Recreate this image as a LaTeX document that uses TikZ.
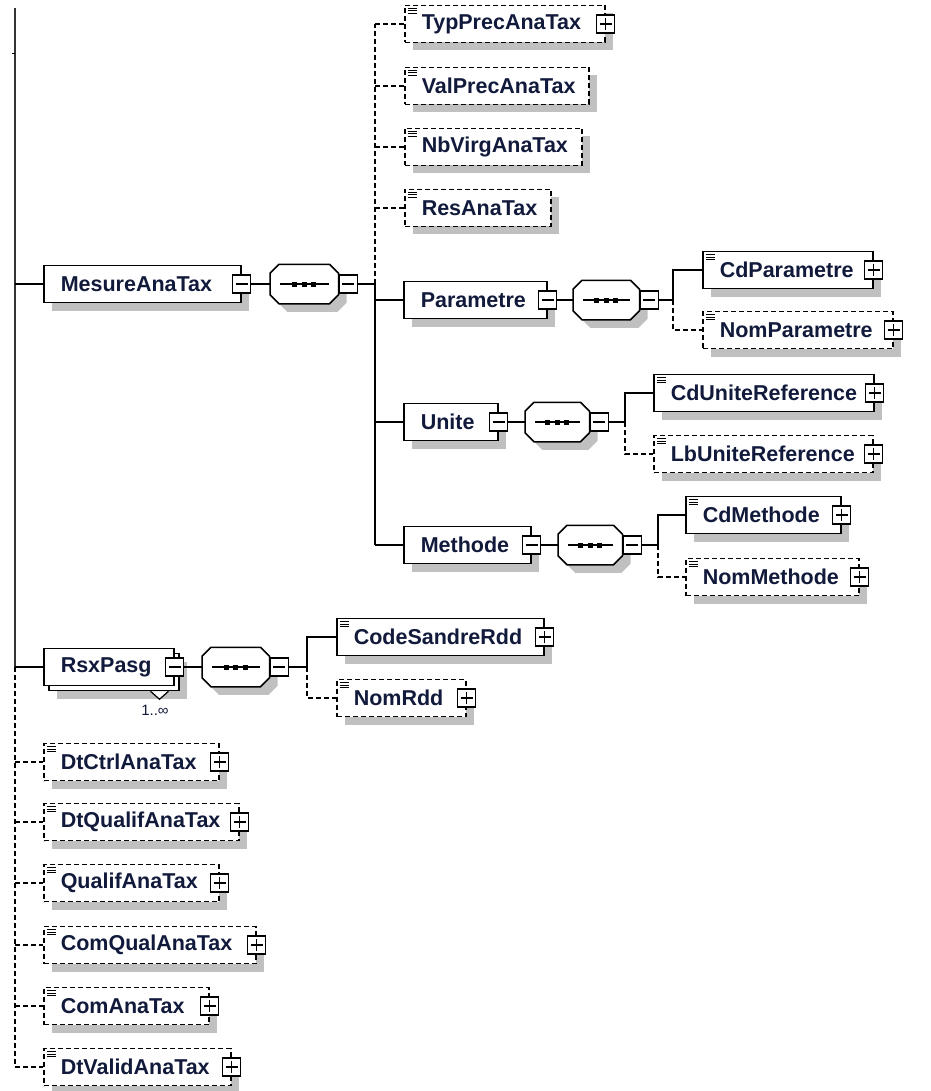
\documentclass[tikz,border=0pt]{standalone}
\usepackage{fontspec}
\setmainfont{Liberation Sans}
\definecolor{mynavy}{RGB}{18,26,60}
\definecolor{myshadow}{RGB}{192,192,192}
\usetikzlibrary{positioning,shadows,calc}

% the sequence symbol: an octagon with a line and three dots
\newcommand{\seqsymbol}[1]{%
  \draw[fill=white,preaction={fill=myshadow,transform canvas={shift={(8pt,-8pt)}}}]
    ([xshift=9pt]#1.north west) -- ([xshift=-9pt]#1.north east) -- ([yshift=-9pt]#1.north east)
    -- ([yshift=9pt]#1.south east) -- ([xshift=-9pt]#1.south east) -- ([xshift=9pt]#1.south west)
    -- ([yshift=9pt]#1.south west) -- ([yshift=-9pt]#1.north west) -- cycle;
  \draw[line width=1.2pt] ([xshift=10pt]#1.west) -- ([xshift=-10pt]#1.east);
  \foreach \dx in {-9.5pt,0pt,9.5pt}
  \fill[black] ([xshift=\dx]#1.center) +(-2.5pt,-2.5pt) rectangle +(2.5pt,2.5pt);}

\begin{document}
\begin{tikzpicture}[x=1pt,y=-1pt,line width=1.5pt,
    every node/.style={inner sep=0pt},
    box/.style={draw,fill=white,anchor=west,minimum height=37pt,inner xsep=17pt,
      text width=#1,font=\fontsize{21.5}{24}\selectfont\bfseries,text=mynavy},
    elbox/.style={box=#1,drop shadow={shadow xshift=8pt,shadow yshift=-8pt,fill=myshadow,opacity=1}},
    leaf/.style={elbox=#1,path picture={\foreach \d in {3pt,5.5pt,8pt}
        \draw[solid,black,line width=1pt] ([shift={(3pt,-\d)}]path picture bounding box.north west) -- ++(9pt,0pt);}},
    optleaf/.style={leaf=#1,dash pattern=on 5pt off 3pt},
    optline/.style={line width=1.2pt,dash pattern=on 5pt off 3pt},
    seqbox/.style={anchor=west,minimum width=#1,minimum height=38pt},
    togminus/.style={draw,solid,fill=white,minimum size=18pt,line width=1.3pt,
      path picture={\draw ([xshift=3pt]path picture bounding box.west) -- ([xshift=-3pt]path picture bounding box.east);}},
    togplus/.style={draw,solid,fill=white,minimum size=18pt,line width=1.3pt,
      path picture={\draw ([xshift=3pt]path picture bounding box.west) -- ([xshift=-3pt]path picture bounding box.east);
        \draw ([yshift=-3pt]path picture bounding box.north) -- ([yshift=3pt]path picture bounding box.south);}}
    ]
    \useasboundingbox (0,0) rectangle (930,1091);

    % the trunk
    \coordinate (trunk) at (15,8);
    \coordinate (tick) at (15,54);

    % MesureAnaTax and its sequence
    \node[elbox=163pt] (mes) at (43,284) {MesureAnaTax};
    \node[togminus] (mesm) at (mes.east) {};
    \node[seqbox=67pt] (seq1) at (270,284) {};
    \seqsymbol{seq1}
    \node[togminus,anchor=west] (seq1m) at (seq1.east) {};
    \coordinate (bus1) at (375,284);

    % the optional values on top
    \foreach \nm/\w/\y [count=\i] in {TypPrecAnaTax/166/24,ValPrecAnaTax/150/86,NbVirgAnaTax/143/147,ResAnaTax/112/208}
    \node[optleaf=\w pt] (top\i) at (404,\y) {\nm};
    \node[togplus] (top1p) at (top1.east) {};

    % Parametre
    \node[elbox=109pt] (par) at (403,300) {Parametre};
    \node[togminus] (parm) at (par.east) {};
    \node[seqbox=65pt] (seq2) at (573,300) {};
    \seqsymbol{seq2}
    \node[togminus,anchor=west] (seq2m) at (seq2.east) {};
    \coordinate (bus2) at (673,300);
    \node[leaf=136pt] (cdpar) at (702,270) {CdParametre};
    \node[togplus] (cdparp) at (cdpar.east) {};
    \node[optleaf=156pt] (nompar) at (702,330) {NomParametre};
    \node[togplus] (nomparp) at (nompar.east) {};

    % Unite
    \node[elbox=60pt] (uni) at (403,422) {Unite};
    \node[togminus] (unim) at (uni.east) {};
    \node[seqbox=63pt] (seq3) at (525,422) {};
    \seqsymbol{seq3}
    \node[togminus,anchor=west] (seq3m) at (seq3.east) {};
    \coordinate (bus3) at (625,422);
    \node[leaf=186pt] (cduni) at (653,393) {CdUniteReference};
    \node[togplus] (cdunip) at (cduni.east) {};
    \node[optleaf=185pt] (lbuni) at (653,454) {LbUniteReference};
    \node[togplus] (lbunip) at (lbuni.east) {};

    % Methode
    \node[elbox=93pt] (meth) at (403,545) {Methode};
    \node[togminus] (methm) at (meth.east) {};
    \node[seqbox=63pt] (seq4) at (558,545) {};
    \seqsymbol{seq4}
    \node[togminus,anchor=west] (seq4m) at (seq4.east) {};
    \coordinate (bus4) at (658,545);
    \node[leaf=121pt] (cdmeth) at (685,515) {CdMethode};
    \node[togplus] (cdmethp) at (cdmeth.east) {};
    \node[optleaf=139pt] (nommeth) at (685,577) {NomMethode};
    \node[togplus] (nommethp) at (nommeth.east) {};

    % RsxPasg, repeated
    \node[elbox=96pt] (rsxback) at (48,672) {};
    \node[box=96pt] (rsx) at (43,667) {RsxPasg};
    \node[togminus] (rsxm) at (rsx.east) {};
    \draw[fill=white,line width=1.2pt] ([xshift=-29pt]rsxback.south east) -- ++(9,8) -- ++(9,-8);
    \node[font=\fontsize{15}{17}\selectfont,text=mynavy] (rsxcard) at (155,710) {1..∞};
    \node[seqbox=66pt] (seq5) at (202,667) {};
    \seqsymbol{seq5}
    \node[togminus,anchor=west] (seq5m) at (seq5.east) {};
    \coordinate (bus5) at (307,667);
    \node[leaf=173pt] (cds) at (336,637) {CodeSandreRdd};
    \node[togplus] (cdsp) at (cds.east) {};
    \node[optleaf=95pt] (nomrdd) at (336,698) {NomRdd};
    \node[togplus] (nomrddp) at (nomrdd.east) {};

    % the optional values below
    \foreach \nm/\w/\y [count=\i] in {DtCtrlAnaTax/141/762,DtQualifAnaTax/161/822,QualifAnaTax/141/883,ComQualAnaTax/178/945,ComAnaTax/131/1006,DtValidAnaTax/153/1067}
    {
    \node[optleaf=\w pt] (bot\i) at (43,\y) {\nm};
    \node[togplus] (botp\i) at (bot\i.east) {};
    }

    % the edges
    \draw[line width=1.8pt,black!80] (trunk) -- (trunk |- rsx.west);
    \draw[line width=1pt] (tick) -- ++(-3,0);
    \draw[optline] (trunk |- rsx.west) -- (trunk |- bot6.west);
    \draw (trunk |- mes.west) -- (mes.west);
    \draw (trunk |- rsx.west) -- (rsx.west);
    \foreach \i in {1,...,6}
    \draw[optline] (trunk |- bot\i.west) -- (bot\i.west);

    \draw (mesm.east) -- (seq1.west);
    \draw (seq1m.east) -- (bus1);
    \draw[optline] (bus1) -- (bus1 |- top1.west);
    \foreach \i in {1,...,4}
    \draw[optline] (bus1 |- top\i.west) -- (top\i.west);
    \draw (bus1) -- (bus1 |- meth.west);
    \foreach \n in {par,uni,meth}
    \draw (bus1 |- \n.west) -- (\n.west);

    \draw (parm.east) -- (seq2.west);
    \draw (seq2m.east) -- (bus2) |- (cdpar.west);
    \draw[optline] (bus2) |- (nompar.west);

    \draw (unim.east) -- (seq3.west);
    \draw (seq3m.east) -- (bus3) |- (cduni.west);
    \draw[optline] (bus3) |- (lbuni.west);

    \draw (methm.east) -- (seq4.west);
    \draw (seq4m.east) -- (bus4) |- (cdmeth.west);
    \draw[optline] (bus4) |- (nommeth.west);

    \draw (rsxm.east) -- (seq5.west);
    \draw (seq5m.east) -- (bus5) |- (cds.west);
    \draw[optline] (bus5) |- (nomrdd.west);
\end{tikzpicture}
\end{document}
